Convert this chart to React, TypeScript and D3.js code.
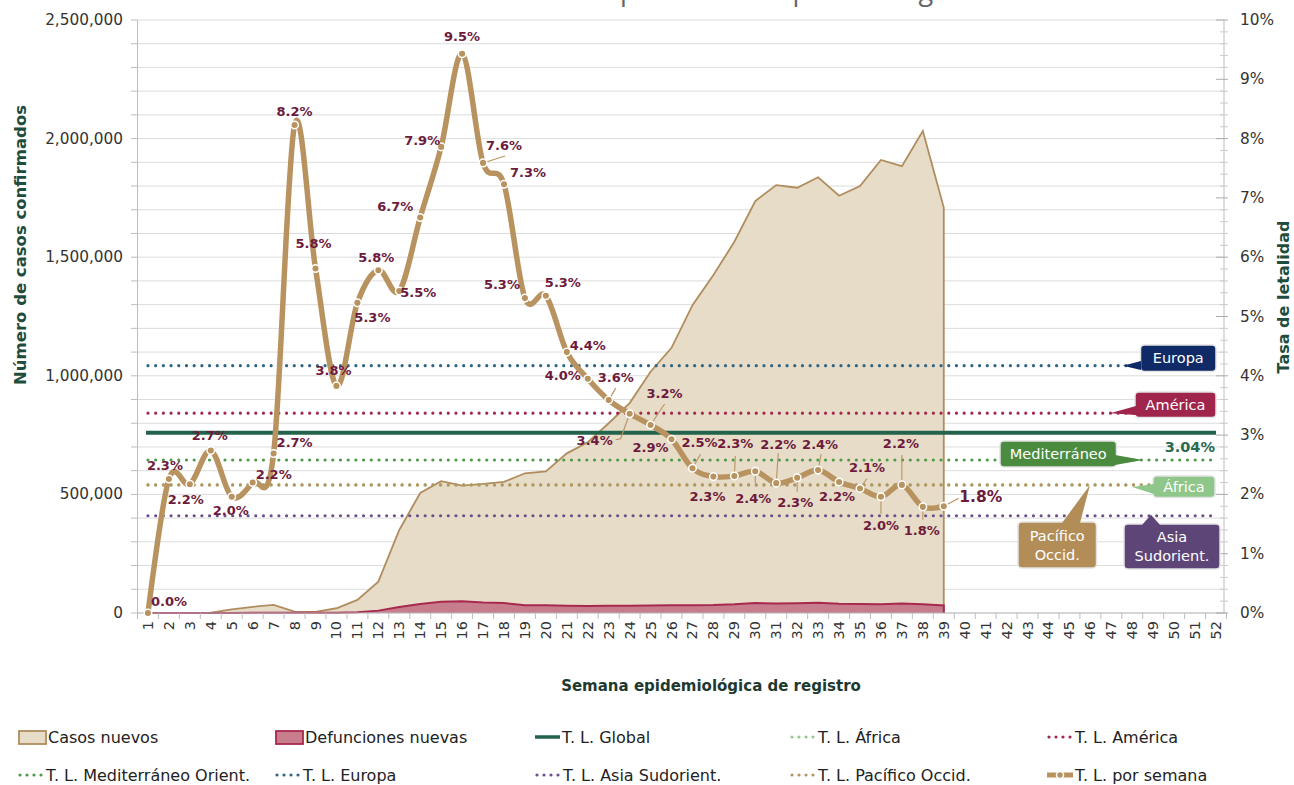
import React from "react";
import * as d3 from "d3";

const weeks = [1,2,3,4,5,6,7,8,9,10,11,12,13,14,15,16,17,18,19,20,21,22,23,24,25,26,27,28,29,30,31,32,33,34,35,36,37,38,39,40,41,42,43,44,45,46,47,48,49,50,51,52];

// weeks 1..39
const casosNuevos = [0,0,0,1000,15000,26000,34000,6000,5000,20000,55000,132000,350000,506000,556000,537000,544000,553000,589000,597000,673000,720000,800000,885000,1017000,1118000,1298000,1425000,1565000,1737000,1804000,1793000,1837000,1759000,1800000,1910000,1884000,2032000,1709000];
const defuncionesNuevas = [0,0,0,0,500,1000,1500,1000,800,1500,3000,10000,25000,38000,47000,50000,44000,42000,33000,33000,31000,30000,31000,31000,32000,33000,33000,34000,37000,42000,40000,41000,43000,39000,38000,37000,40000,37000,32000];
const tasaSemana = [0,2.26,2.17,2.74,1.96,2.2,2.69,8.23,5.81,3.83,5.23,5.78,5.43,6.67,7.86,9.43,7.59,7.23,5.31,5.35,4.40,3.95,3.59,3.36,3.17,2.93,2.44,2.30,2.31,2.39,2.19,2.28,2.41,2.21,2.10,1.96,2.16,1.79,1.80];
const tasaEtiquetas = ["0.0%","2.3%","2.2%","2.7%","2.0%","2.2%","2.7%","8.2%","5.8%","3.8%","5.3%","5.8%","5.5%","6.7%","7.9%","9.5%","7.6%","7.3%","5.3%","5.3%","4.4%","4.0%","3.6%","3.4%","3.2%","2.9%","2.5%","2.3%","2.3%","2.4%","2.2%","2.3%","2.4%","2.2%","2.1%","2.0%","2.2%","1.8%","1.8%"];

const regiones = ["Europa","América","Global","Mediterráneo","África","Pacífico","Asia"];
const tasaRegion = [4.17, 3.37, 3.04, 2.58, 2.16, 2.16, 1.64];

const leftTicks = [0,500000,1000000,1500000,2000000,2500000];
const rightTicks = [0,1,2,3,4,5,6,7,8,9,10];

// layout (label offsets relative to point)
const labelOffsets: [number, number][] = [
  [21,-12],[-4,-13],[-4,15],[-1,-15],[-1,14],[21,-8],[21,-11],[0,-13],[-2,-25],[-3,-15],
  [15,15],[-2,-13],[19,1],[-25,-11],[-19,-6],[0,-17],[21,-17],[24,-12],[-23,-14],[17,-13],
  [21,-7],[-25,-3],[7,-23],[-35,27],[14,-32],[-21,8],[7,-26],[-6,20],[1,-33],[-2,27],
  [2,-39],[-2,25],[2,-26],[-2,15],[7,-21],[0,29],[-1,-41],[-1,24],[37,-9]
];
const leaders: Record<number, [number, number][]> = {
  17: [[22,-7]], 23: [[7,-12]], 24: [[-9,25],[-14,26]], 25: [[14,-21]], 27: [[8,-14]],
  29: [[1,-20]], 30: [[0,12]], 31: [[2,-30]], 32: [[0,14]], 33: [[3,-16]], 35: [[7,-10]],
  36: [[0,17]], 37: [[0,-30]], 38: [[0,13]], 39: [[15,-8]],
};

const FONT = "'DejaVu Sans', 'Noto Sans', sans-serif";
const TAN = "#b8935f";
const MAROON = "#6d1a3c";
const DGREEN = "#1f4d3b";

export default function App() {
  const x = d3.scaleBand<number>().domain(weeks).range([137.5, 1226.5]);
  const cx = (w: number) => (x(w) as number) + x.bandwidth() / 2;
  const yL = d3.scaleLinear().domain([0, 2500000]).range([613, 20]);
  const yR = d3.scaleLinear().domain([0, 10]).range([613, 20]);

  const dataWeeks = weeks.slice(0, casosNuevos.length);
  const areaC = d3.area<number>().x((w) => cx(w)).y0(yL(0)).y1((w, i) => yL(casosNuevos[i]));
  const areaD = d3.area<number>().x((w) => cx(w)).y0(yL(0)).y1((w, i) => yL(defuncionesNuevas[i]));
  const lineC = d3.line<number>().x((w) => cx(w)).y((w, i) => yL(casosNuevos[i]));
  const lineD = d3.line<number>().x((w) => cx(w)).y((w, i) => yL(defuncionesNuevas[i]));
  const lineR = d3.line<number>().x((w) => cx(w)).y((w, i) => yR(tasaSemana[i])).curve(d3.curveCardinal);

  const grid = d3.range(0, 2500001, 100000);
  const rightMinor = d3.range(0, 10.01, 0.2);
  const x0 = cx(1), x1 = cx(52);

  const refStyle: Record<string, { color: string; dotted: boolean }> = {
    Europa: { color: "#2e6585", dotted: true },
    América: { color: "#a3284e", dotted: true },
    Global: { color: "#23634b", dotted: false },
    Mediterráneo: { color: "#4f9a49", dotted: true },
    África: { color: "#94c98d", dotted: true },
    Pacífico: { color: TAN, dotted: true },
    Asia: { color: "#6b4f8a", dotted: true },
  };

  const dotted = (color: string) => ({ stroke: color, strokeWidth: 3.2, strokeDasharray: "0 7.7", strokeLinecap: "round" as const, fill: "none" });

  const callout = (key: string, box: [number, number, number, number], pts: [number, number][], color: string, lines: string[], textColor = "#fff") => {
    const [bx, by, bw, bh] = box;
    return (
      <g key={key}>
        <rect x={bx} y={by} width={bw} height={bh} rx={4} fill={color} stroke="#e4e4e4" strokeWidth={1.5} />
        <polygon points={pts.map((p) => p.join(",")).join(" ")} fill={color} />
        {lines.map((t, i) => (
          <text key={i} x={bx + bw / 2} y={by + bh / 2 + (i - (lines.length - 1) / 2) * 19} textAnchor="middle" dominantBaseline="central" fill={textColor} fontSize={14.5} fontFamily={FONT}>{t}</text>
        ))}
      </g>
    );
  };

  const legendRow1 = 737, legendRow2 = 775;

  return (
    <svg width={1294} height={785} style={{ position: "absolute", left: 0, top: 0, background: "#fff" }} fontFamily={FONT}>
      <text x={968} y={0} textAnchor="end" fontSize={27} fill="#666" fontFamily="'Open Sans', sans-serif">Tasa de letalidad por semana epidemiológica</text>

      {/* grid */}
      {grid.map((g) => (
        <line key={g} x1={137.5} x2={1224} y1={yL(g)} y2={yL(g)} stroke="#dcdcdc" strokeWidth={1} />
      ))}

      {/* areas */}
      <path d={areaC(dataWeeks) || ""} fill="#e7dcc7" />
      <path d={(lineC(dataWeeks) || "") + `L${cx(39)},${yL(0)}`} fill="none" stroke="#b08d5e" strokeWidth={1.8} />
      <path d={areaD(dataWeeks) || ""} fill="#c77d8c" />
      <path d={(lineD(dataWeeks) || "") + `L${cx(39)},${yL(0)}`} fill="none" stroke="#a8294f" strokeWidth={2} />

      {/* axes */}
      <line x1={137.5} x2={137.5} y1={20} y2={613} stroke="#bdbdbd" />
      <line x1={1224} x2={1224} y1={20} y2={613} stroke="#bdbdbd" />
      <line x1={137.5} x2={1226.5} y1={613} y2={613} stroke="#bdbdbd" />
      {grid.map((g) => (
        <line key={"lt" + g} x1={131} x2={137.5} y1={yL(g)} y2={yL(g)} stroke="#bdbdbd" />
      ))}
      {leftTicks.map((t) => (
        <text key={"ll" + t} x={123} y={yL(t)} textAnchor="end" dominantBaseline="central" fontSize={15.3} fill="#333">{d3.format(",")(t)}</text>
      ))}
      {rightMinor.map((t, i) => (
        <line key={"rt" + i} x1={i % 5 === 0 ? 1216 : 1220} x2={1228} y1={yR(t)} y2={yR(t)} stroke={i % 5 === 0 ? "#aaa" : "#ccc"} />
      ))}
      {rightTicks.map((t) => (
        <text key={"rl" + t} x={1240} y={yR(t)} dominantBaseline="central" fontSize={15.3} fill="#333">{t + "%"}</text>
      ))}
      {weeks.map((w) => (
        <g key={"xt" + w}>
          <line x1={x(w) as number} x2={x(w) as number} y1={613} y2={619} stroke="#bdbdbd" />
          <text transform={`translate(${cx(w)},${621}) rotate(-90)`} textAnchor="end" dominantBaseline="central" fontSize={14.5} fill="#333">{w}</text>
        </g>
      ))}
      <line x1={1226.5} x2={1226.5} y1={613} y2={619} stroke="#bdbdbd" />

      {/* axis titles */}
      <text transform="translate(20,245) rotate(-90)" textAnchor="middle" dominantBaseline="central" fontSize={16.5} fontWeight={700} fill={DGREEN}>Número de casos confirmados</text>
      <text transform="translate(1283,297) rotate(-90)" textAnchor="middle" dominantBaseline="central" fontSize={16} fontWeight={700} fill={DGREEN}>Tasa de letalidad</text>
      <text x={711} y={686} textAnchor="middle" dominantBaseline="central" fontSize={15} fontWeight={700} fill="#1e3a30">Semana epidemiológica de registro</text>

      {/* reference lines */}
      {regiones.map((r, i) => {
        const s = refStyle[r];
        const y = yR(tasaRegion[i]);
        return s.dotted ? (
          <line key={r} x1={x0} x2={x1 - 2} y1={y} y2={y} {...dotted(s.color)} />
        ) : (
          <line key={r} x1={x0 - 2} x2={x1} y1={y} y2={y} stroke={s.color} strokeWidth={4} />
        );
      })}

      {/* callouts */}
      {callout("eu", [1140.5, 345, 75.5, 26.5], [[1141, 361], [1123, yR(tasaRegion[0])], [1141, 370]], "#0f2a66", ["Europa"])}
      {callout("am", [1135, 392, 81, 25.5], [[1136, 406], [1110, yR(tasaRegion[1])], [1136, 415]], "#a0254c", ["América"])}
      <text x={1215} y={447} textAnchor="end" dominantBaseline="central" fontSize={14.5} fontWeight={700} fill="#2c6b4f">3.04%</text>
      {callout("me", [1000, 441, 116.5, 26], [[1115, 455], [1143, yR(tasaRegion[3])], [1115, 465]], "#4b8b3f", ["Mediterráneo"])}
      {callout("af", [1153, 476, 62, 21.5], [[1154, 484], [1132, yR(tasaRegion[4]) + 2], [1154, 494]], "#8fc68a", ["África"])}
      {callout("pa", [1018, 522, 78.5, 46], [[1062, 523], [1090, yR(tasaRegion[5])], [1080, 523]], "#b38d58", ["Pacífico", "Occid."])}
      {callout("as", [1124, 524, 96, 45], [[1142, 525], [1151, yR(tasaRegion[6]) - 1], [1160, 525]], "#5e4578", ["Asia", "Sudorient."])}

      {/* weekly rate */}
      <path d={lineR(dataWeeks) || ""} fill="none" stroke={TAN} strokeWidth={5.5} strokeLinejoin="round" />
      {dataWeeks.map((w, i) => {
        const px = cx(w), py = yR(tasaSemana[i]);
        const ld = leaders[w];
        return ld ? (
          <polyline key={"ld" + w} points={[[px, py], ...ld.map(([dx, dy]) => [px + dx, py + dy])].map((p) => p.join(",")).join(" ")} fill="none" stroke={TAN} strokeWidth={1.1} />
        ) : null;
      })}
      {dataWeeks.map((w, i) => (
        <circle key={"pt" + w} cx={cx(w)} cy={yR(tasaSemana[i])} r={3.8} fill={TAN} stroke="#fff" strokeWidth={1.5} />
      ))}
      {dataWeeks.map((w, i) => {
        const [dx, dy] = labelOffsets[i];
        const big = w === 39;
        return (
          <text key={"lb" + w} x={cx(w) + dx} y={yR(tasaSemana[i]) + dy} textAnchor="middle" dominantBaseline="central" fontSize={big ? 15.5 : 13} fontWeight={700} fill={MAROON}>{tasaEtiquetas[i]}</text>
        );
      })}

      {/* legend */}
      <g fontSize={16} fill="#222">
        <rect x={19} y={731} width={27} height={13} fill="#e7dcc7" stroke="#b08d5e" strokeWidth={1.8} />
        <text x={48} y={legendRow1} dominantBaseline="central">Casos nuevos</text>
        <rect x={276} y={731} width={27} height={13} fill="#c77d8c" stroke="#a8294f" strokeWidth={1.8} />
        <text x={305} y={legendRow1} dominantBaseline="central">Defunciones nuevas</text>
        <line x1={535} x2={560} y1={legendRow1} y2={legendRow1} stroke="#23634b" strokeWidth={3.5} />
        <text x={562} y={legendRow1} dominantBaseline="central">T. L. Global</text>
        <line x1={792} x2={816} y1={legendRow1} y2={legendRow1} {...dotted("#94c98d")} strokeDasharray="0 7" />
        <text x={818} y={legendRow1} dominantBaseline="central">T. L. África</text>
        <line x1={1049} x2={1073} y1={legendRow1} y2={legendRow1} {...dotted("#a3284e")} strokeDasharray="0 7" />
        <text x={1075} y={legendRow1} dominantBaseline="central">T. L. América</text>

        <line x1={20} x2={44} y1={legendRow2} y2={legendRow2} {...dotted("#4f9a49")} strokeDasharray="0 7" />
        <text x={46} y={legendRow2} dominantBaseline="central">T. L. Mediterráneo Orient.</text>
        <line x1={277} x2={301} y1={legendRow2} y2={legendRow2} {...dotted("#2e6585")} strokeDasharray="0 7" />
        <text x={303} y={legendRow2} dominantBaseline="central">T. L. Europa</text>
        <line x1={537} x2={561} y1={legendRow2} y2={legendRow2} {...dotted("#6b4f8a")} strokeDasharray="0 7" />
        <text x={563} y={legendRow2} dominantBaseline="central">T. L. Asia Sudorient.</text>
        <line x1={792} x2={816} y1={legendRow2} y2={legendRow2} {...dotted(TAN)} strokeDasharray="0 7" />
        <text x={818} y={legendRow2} dominantBaseline="central">T. L. Pacífico Occid.</text>
        <line x1={1047} x2={1073} y1={legendRow2} y2={legendRow2} stroke={TAN} strokeWidth={5} />
        <circle cx={1060} cy={legendRow2} r={3.5} fill={TAN} stroke="#fff" strokeWidth={1.5} />
        <text x={1075} y={legendRow2} dominantBaseline="central">T. L. por semana</text>
      </g>
    </svg>
  );
}
